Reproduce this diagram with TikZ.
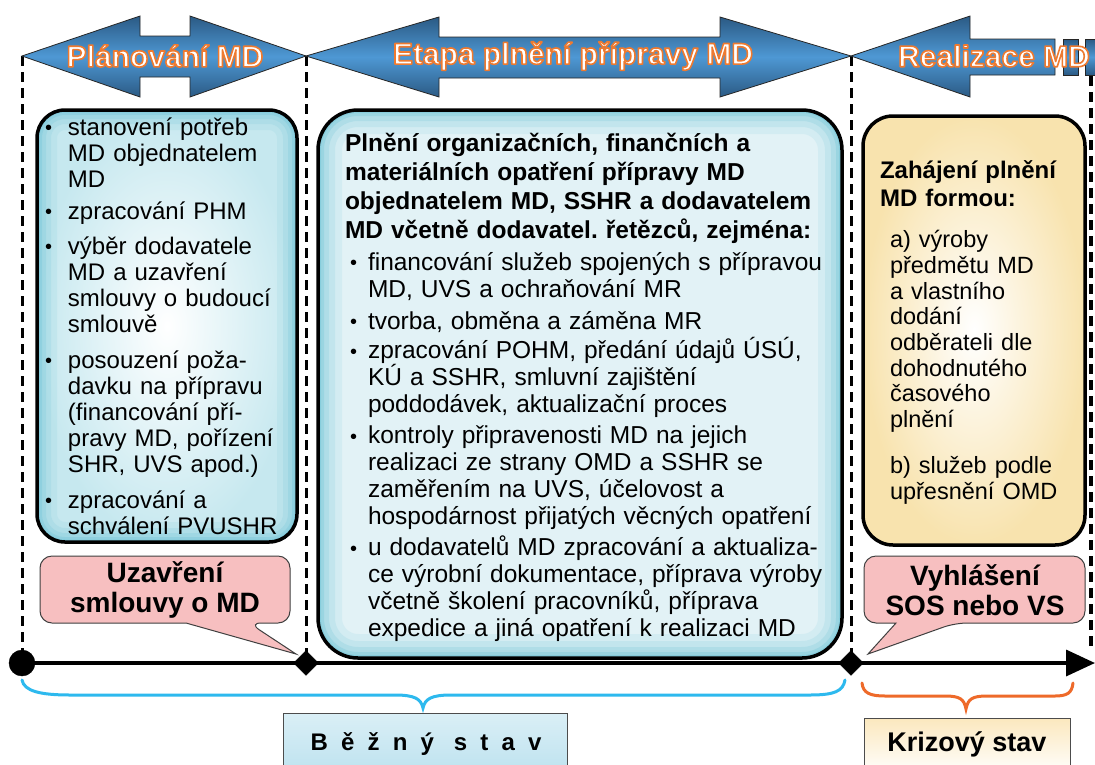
\documentclass[tikz,border=0pt]{standalone}
\usepackage{fontspec}
\setmainfont{Liberation Sans}
\usetikzlibrary{arrows.meta,shapes.geometric}
\definecolor{arrdark}{HTML}{2B5A84}
\definecolor{arrlight}{HTML}{4E98D4}
\definecolor{lblue}{HTML}{C6E8EF}
\definecolor{mblue}{HTML}{6CC3D6}
\definecolor{mfill}{HTML}{E2F2F6}
\definecolor{lyel}{HTML}{F8E3AE}
\definecolor{pinkc}{HTML}{F7BFC0}
\definecolor{braceblue}{HTML}{2DB9EE}
\definecolor{braceor}{HTML}{EE6A2A}
\definecolor{bstop}{HTML}{DAEFF6}
\definecolor{bsbot}{HTML}{BDE2EF}
\definecolor{kstop}{HTML}{FBE8BE}
\newlength\bulw
\newcommand\olbox[1]{{\color{white}\special{pdf:code 2 Tr 1.6 w 1 j 0.933 0.478 0.188 RG}#1\special{pdf:code 0 Tr}}}
\newcommand\bitem[1]{\noindent\hangindent=\bulw\hangafter=1\makebox[\bulw][l]{\raisebox{0.5pt}{\fontsize{20}{20}\selectfont\textbullet}}#1\par}
\tikzset{
 vline/.style={line width=3, dash pattern=on 10 off 6},
 bigbox/.style={line width=3.5, draw=black, shade, shading=radial},
 txt/.style={inner sep=0, outer sep=0, font=\fontsize{24}{26}\selectfont\frenchspacing, align=left},
 arrowshape/.style={draw=black!85, line width=0.8, top color=arrdark, bottom color=arrdark, middle color=arrlight},
 arrlabel/.style={inner sep=0, font=\fontsize{30}{36}\selectfont\bfseries},
 calloutsh/.style={fill=pinkc, draw=black!75, line width=1},
 calltxt/.style={inner sep=0, align=center, font=\fontsize{28}{30}\selectfont\bfseries},
 timeline/.style={line width=3.5, -{Triangle[length=29pt,width=26pt]}},
 marker/.style={fill=black, draw=black, inner sep=0},
 bracestyle/.style={line width=3, line cap=round},
 statebox/.style={draw=black!70, line width=1},
 midround/.style={rounded corners=40},
 leftround/.style={rounded corners=28},
}
\begin{document}
\begin{tikzpicture}[x=1pt,y=-1pt]
\clip (0,0) rectangle (1095,764);
\useasboundingbox (0,0) rectangle (1095,764);
\fill[white] (0,0) rectangle (1095,764);

% named points
\coordinate (t0) at (22,663);
\coordinate (t1) at (306,663);
\coordinate (t2) at (851,663);
\coordinate (tend) at (1095,663);
\coordinate (v0) at (22,56);
\coordinate (v1) at (306,56);
\coordinate (v2) at (851,56);
\coordinate (v3) at (1091,60);
\coordinate (v3b) at (1091,652);

% vertical dashed lines
\draw[vline] (v0) -- (t0);
\draw[vline] (v1) -- (t1);
\draw[vline] (v2) -- (t2);
\draw[vline, line width=3.6] (v3) -- (v3b);

% top arrows
\draw[arrowshape] (22,56) -- (140,16) -- (140,36) -- (190,36) -- (190,16) -- (306,56) -- (190,97) -- (190,77) -- (140,77) -- (140,97) -- cycle;
\draw[arrowshape] (306,56) -- (439,17) -- (439,37) -- (720,37) -- (720,17) -- (851,56) -- (720,97) -- (720,78) -- (439,78) -- (439,97) -- cycle;
\draw[arrowshape] (851,56) -- (970,16) -- (970,39) -- (1055,39) -- (1055,75) -- (970,75) -- (970,97) -- cycle;
\draw[arrowshape] (1063,39) rectangle (1078,75);
\draw[arrowshape] (1085,39) rectangle (1100,75);
\node[arrlabel] (lab1) at (165,56) {\olbox{Plánování MD}};
\node[arrlabel] (lab2) at (573,56) {\olbox{Etapa plnění přípravy MD}};
\node[arrlabel] (lab3) at (994,56) {\olbox{Realizace MD}};

% content boxes
\begin{scope}
\clip[leftround] (37,110) rectangle (297,542);
\shade[shading=radial, inner color=white, outer color=lblue] (37,110) rectangle (297,542);
\foreach \w/\o in {40/0.12, 28/0.16, 18/0.22, 10/0.3, 5/0.4}
  \draw[leftround, draw=mblue, line width=\w, opacity=\o] (37,110) rectangle (297,542);
\end{scope}
\draw[leftround, line width=3.5] (37,110) rectangle (297,542);
\begin{scope}
\clip[midround] (318,110) rectangle (842,658);
\fill[mfill] (318,110) rectangle (842,658);
\foreach \w/\o in {48/0.12, 34/0.16, 22/0.22, 12/0.3, 6/0.4}
  \draw[midround, draw=mblue, line width=\w, opacity=\o] (318,110) rectangle (842,658);
\end{scope}
\draw[midround, line width=3.5] (318,110) rectangle (842,658);
\draw[bigbox, rounded corners=30, inner color=white, outer color=lyel] (863,116) rectangle (1085,545);

% left box text
\node[txt, anchor=base west, text width=255] (ltext) at (45,135) {%
\setlength\bulw{23pt}%
\bitem{stanovení potřeb\newline MD objednatelem\newline MD}
\vspace{6pt}
\bitem{zpracování PHM}
\vspace{9pt}
\bitem{výběr dodavatele\newline MD a uzavření\newline smlouvy o budoucí\newline smlouvě}
\vspace{10pt}
\bitem{posouzení poža-\newline davku na přípravu\newline (financování pří-\newline pravy MD, pořízení\newline SHR, UVS apod.)}
\vspace{10pt}
\bitem{zpracování a\newline schválení PVUSHR}};

% middle box text
\node[txt, anchor=base west, text width=510] (mtext) at (345,151) {%
{\bfseries\fontsize{24.5}{29}\selectfont Plnění organizačních, finančních a\\materiálních opatření přípravy MD\\objednatelem MD, SSHR a dodavatelem\\MD včetně dodavatel. řetězců, zejména:\par}
\fontsize{24.5}{27}\selectfont\setlength\bulw{18pt}\leftskip=5pt
\vspace{5pt}
\bitem{financování služeb spojených s přípravou\newline MD, UVS a ochraňování MR}
\vspace{5pt}
\bitem{tvorba, obměna a záměna MR}
\vspace{2.5pt}
\bitem{zpracování POHM, předání údajů ÚSÚ,\newline KÚ a SSHR, smluvní zajištění\newline poddodávek, aktualizační proces}
\vspace{4pt}
\bitem{kontroly připravenosti MD na jejich\newline realizaci ze strany OMD a SSHR se\newline zaměřením na UVS, účelovost a\newline hospodárnost přijatých věcných opatření}
\vspace{4pt}
\bitem{u dodavatelů MD zpracování a aktualiza-\newline ce výrobní dokumentace, příprava výroby\newline včetně školení pracovníků, příprava\newline expedice a jiná opatření k realizaci MD}};

% right box text
\node[txt, anchor=base west, text width=205] (rtext) at (880,178) {%
{\bfseries\fontsize{24}{28}\selectfont Zahájení plnění\\MD formou:\par}
\vspace{16pt}
{\fontsize{23.5}{25.7}\selectfont\leftskip=10pt a) výroby\\předmětu MD\\a vlastního\\dodání\\odběrateli dle\\dohodnutého\\časového\\plnění\par
\vspace{20pt}
b) služeb podle\\upřesnění OMD\par}};

% callouts
\draw[calloutsh] (40,590) [rounded corners=12] -- (40,556) -- (290,556) -- (290,623) -- (249,623) [sharp corners] -- (296,654) -- (186,623) [rounded corners=12] -- (40,623) -- cycle;
\node[calltxt] (call1) at (165,590) {Uzavření\\smlouvy o MD};
\draw[calloutsh] (864,590) [rounded corners=12] -- (864,556) -- (1085,556) -- (1085,623) -- (955,623) [sharp corners] -- (868,654) -- (896,623) [rounded corners=12] -- (864,623) -- cycle;
\node[calltxt] (call2) at (975,590) {Vyhlášení\\SOS nebo VS};

% timeline
\draw[timeline] (t0) -- (tend);
\node[marker, circle, minimum size=26] (m0) at (t0) {};
\node[marker, diamond, minimum size=25] (m1) at (t1) {};
\node[marker, diamond, minimum size=25] (m2) at (t2) {};

% braces
\coordinate (bl) at (22,680);
\coordinate (bm) at (423,708);
\coordinate (br) at (845,680);
\draw[bracestyle, draw=braceblue] (bl) .. controls (24,691) and (40,695) .. (70,695) -- (395,695) .. controls (415,695) and (421,699) .. (bm) .. controls (425,699) and (431,695) .. (451,695) -- (810,695) .. controls (835,695) and (843,691) .. (br);
\coordinate (ol) at (862,683);
\coordinate (om) at (966,709);
\coordinate (or) at (1073,683);
\draw[bracestyle, draw=braceor] (ol) .. controls (863,693) and (870,696) .. (885,696) -- (945,696) .. controls (960,696) and (964,699) .. (om) .. controls (968,699) and (972,696) .. (987,696) -- (1055,696) .. controls (1067,696) and (1072,693) .. (or);

% state boxes
\draw[statebox, top color=bstop, bottom color=bsbot] (283,713) rectangle (567,775);
\node[inner sep=0, font=\fontsize{24}{26}\selectfont\bfseries\addfontfeature{LetterSpace=55}] (bs) at (426,744) {Běžný stav};
\draw[statebox, top color=kstop, bottom color=white] (864,718) rectangle (1070,775);
\node[inner sep=0, font=\fontsize{27}{30}\selectfont\bfseries] (ks) at (967,744) {Krizový stav};
\end{tikzpicture}
\end{document}
